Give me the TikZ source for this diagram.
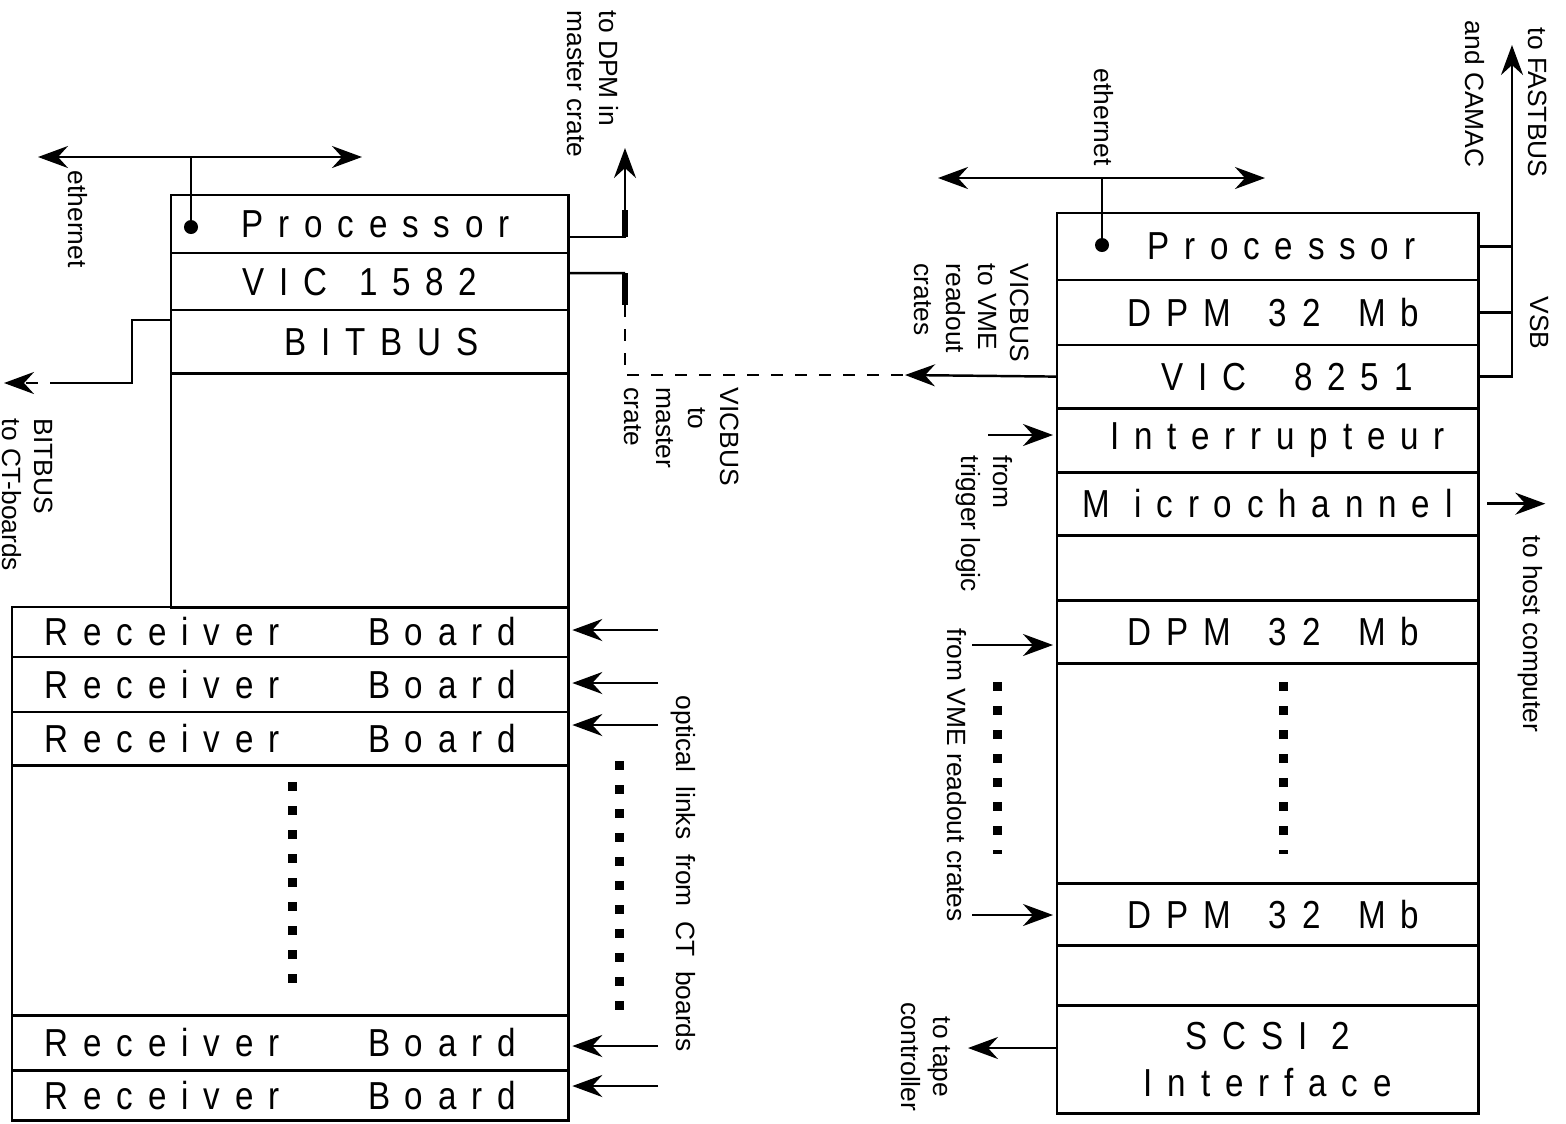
\documentclass[tikz,border=0pt]{standalone}
\usepackage{fontspec}
\setmainfont{Liberation Sans}
\newfontfamily\boxfont[FakeStretch=0.85,LetterSpace=38]{Liberation Sans}
\usetikzlibrary{arrows.meta,positioning}

\begin{document}
\begin{tikzpicture}[
  x=0.01cm, y=-0.01cm,
  slot/.style={draw, line width=0.8pt, inner sep=0pt, outer sep=0pt, align=center,
    font=\boxfont\fontsize{11.1pt}{13.4pt}\selectfont},
  lslot/.style={slot, minimum width=3.97cm},
  bslot/.style={slot, minimum width=5.56cm},
  rslot/.style={slot, minimum width=4.21cm},
  lbl/.style={font=\fontsize{7.5pt}{9.1pt}\selectfont, rotate=-90, align=left, inner sep=0pt},
  dot/.style={circle, fill, inner sep=0pt, outer sep=0pt, minimum size=0.14cm},
  wire/.style={line width=0.7pt},
  arrow/.style={wire, -{Stealth[length=0.3cm, width=0.22cm, inset=0.1cm]}},
  both/.style={wire, {Stealth[length=0.3cm, width=0.22cm, inset=0.1cm]}-{Stealth[length=0.3cm, width=0.22cm, inset=0.1cm]}},
  broken/.style={dash pattern=on 0.12cm off 0.12cm}
]
\useasboundingbox (0,0) rectangle (1566,1123);

% master crate
\node[lslot, minimum height=0.58cm, anchor=north west] (lproc) at (171,195) {\hspace*{0.3em}Processor};
\node[lslot, minimum height=0.57cm, below=0pt of lproc] (lvic) {VIC\hspace{0.2em} 1582\hspace*{0.5em}};
\node[lslot, minimum height=0.63cm, below=0pt of lvic] (lbit) {\hspace*{0.6em}BITBUS};
\node[lslot, minimum height=2.34cm, below=0pt of lbit] (lfree) {};

% receiver boards
\node[bslot, minimum height=0.50cm, anchor=north west] (rb1) at (12,607) {Receiver\hspace{1.65em} Board\hspace*{0.5em}};
\node[bslot, minimum height=0.55cm, below=0pt of rb1] (rb2) {Receiver\hspace{1.65em} Board\hspace*{0.5em}};
\node[bslot, minimum height=0.53cm, below=0pt of rb2] (rb3) {Receiver\hspace{1.65em} Board\hspace*{0.5em}};
\node[bslot, minimum height=2.50cm, below=0pt of rb3] (rbgap) {};
\node[bslot, minimum height=0.55cm, below=0pt of rbgap] (rb4) {Receiver\hspace{1.65em} Board\hspace*{0.5em}};
\node[bslot, minimum height=0.50cm, below=0pt of rb4] (rb5) {Receiver\hspace{1.65em} Board\hspace*{0.5em}};

% event builder crate
\node[rslot, minimum height=0.67cm, anchor=north west] (proc) at (1057,213) {\hspace*{0.7em}Processor};
\node[rslot, minimum height=0.65cm, below=0pt of proc] (dpma) {\hspace*{0.3em}DPM\hspace{0.35em} 32\hspace{0.35em} Mb};
\node[rslot, minimum height=0.63cm, below=0pt of dpma] (vic) {\hspace*{1em}VIC\hspace{0.6em} 8251};
\node[rslot, minimum height=0.64cm, below=0pt of vic] (intr) {\hspace*{0.5em}Interrupteur};
\node[rslot, minimum height=0.63cm, below=0pt of intr] (mch) {M icrochannel};
\node[rslot, minimum height=0.65cm, below=0pt of mch] (blank1) {};
\node[rslot, minimum height=0.63cm, below=0pt of blank1] (dpmb) {\hspace*{0.3em}DPM\hspace{0.35em} 32\hspace{0.35em} Mb};
\node[rslot, minimum height=2.20cm, below=0pt of dpmb] (vgap) {};
\node[rslot, minimum height=0.62cm, below=0pt of vgap] (dpmc) {\hspace*{0.3em}DPM\hspace{0.35em} 32\hspace{0.35em} Mb};
\node[rslot, minimum height=0.60cm, below=0pt of dpmc] (blank2) {};
\node[rslot, minimum height=1.08cm, below=0pt of blank2] (scsi) {SCSI 2\\Interface};

% ethernet, master crate
\node[dot] (ldot) at (191,227) {};
\coordinate (lethL) at (38,157);
\coordinate (lethR) at (362,157);
\draw[both] (lethL) -- (lethR);
\draw[wire] (ldot) -- (ldot |- lethL);
\node[lbl, anchor=west] (leth) at (78,170) {ethernet};

% to DPM in master crate
\coordinate (dpmtip) at (625,148);
\coordinate (dpmknee) at (625,237);
\draw[arrow] ([yshift=-0.13cm]lproc.east) -| (dpmtip);
\draw[line width=1.5pt] (dpmknee) -- ++(0,-27);
\node[lbl, anchor=west] (dpmlbl) at (593,10) {to DPM in\\master crate};

% VICBUS between crates
\coordinate (vkneeA) at (625,273);
\coordinate (vkneeB) at (625,305);
\coordinate (vmeet) at (905,375);
\draw[wire] ([yshift=0.085cm]lvic.east) -- (vkneeA);
\draw[line width=1.5pt] (vkneeA) -- (vkneeB);
\draw[wire, broken] (vkneeB) |- (vmeet);
\draw[arrow] (vic.west) -- (vmeet);
\node[lbl, anchor=west] (vmlbl) at (682,387) {VICBUS\\\hspace*{0.75em}to\\master\\crate};
\node[lbl, anchor=west] (vrlbl) at (972,263) {VICBUS\\to VME\\readout\\crates};

% BITBUS
\coordinate (bkink) at (132,383);
\coordinate (bdash) at (62,383);
\coordinate (btip) at (4,383);
\draw[wire] ([yshift=0.215cm]lbit.west) -| (bkink) -- (bdash);
\draw[arrow, broken] (bdash) -- (btip);
\node[lbl, anchor=west] (bblbl) at (28,418) {BITBUS\\to CT-boards};

% optical links
\foreach \r/\y [count=\i] in {rb1/630, rb2/683, rb3/725, rb4/1046, rb5/1086} {
  \coordinate (opt\i) at (658,\y);
  \draw[arrow, shorten >=0.04cm] (opt\i) -- (opt\i -| \r.east);
}
\node[lbl, anchor=west] (optlbl) at (683,695) {optical~~links~~from~~CT~~boards};

% dots
\foreach \k in {0,...,8} \fill (287.5,781.5+24*\k) rectangle ++(9,9);
\foreach \k in {0,...,10} \fill (614.5,760.5+24*\k) rectangle ++(9,9);
\foreach \k in {0,...,6} {
  \fill (1278.5,681.5+24*\k) rectangle ++(9,9);
  \fill (992.5,681.5+24*\k) rectangle ++(9,9);
}
\fill (1278.5,850) rectangle ++(9,4);
\fill (992.5,850) rectangle ++(9,4);

% ethernet, event builder
\node[dot] (rdot) at (1102,245) {};
\coordinate (rethL) at (938,178);
\coordinate (rethR) at (1265,178);
\draw[both] (rethL) -- (rethR);
\draw[wire] (rdot) -- (rdot |- rethL);
\node[lbl, anchor=west] (reth) at (1104,68) {ethernet};

% VSB
\coordinate (vsbtip) at (1512,45);
\draw[arrow] (vic.east) -| (vsbtip);
\draw[wire] (proc.east) -- (proc.east -| vsbtip);
\draw[wire] (dpma.east) -- (dpma.east -| vsbtip);
\node[lbl] (vsblbl) at (1540,323) {VSB};
\node[lbl, anchor=west] (fastlbl) at (1538,27) {to FASTBUS};
\node[lbl, anchor=west] (camaclbl) at (1475,20) {and CAMAC};

% trigger, readout crates, host, tape
\coordinate (trig) at (988,435);
\draw[arrow, shorten >=0.04cm] (trig) -- (trig -| intr.west);
\node[lbl, anchor=west] (triglbl) at (984,455) {from\\trigger logic};

\coordinate (vmeA) at (972,645);
\coordinate (vmeB) at (972,915);
\draw[arrow, shorten >=0.04cm] (vmeA) -- (vmeA -| dpmb.west);
\draw[arrow, shorten >=0.04cm] (vmeB) -- (vmeB -| dpmc.west);
\node[lbl, anchor=west] (vmelbl) at (957,628) {from VME readout crates};

\coordinate (host) at ([xshift=0.67cm]mch.east);
\draw[arrow] ([xshift=0.09cm]mch.east) -- (host);
\node[lbl, anchor=west] (hostlbl) at (1530,535) {to host computer};

\coordinate (tape) at (968,1048);
\draw[arrow] (tape -| scsi.west) -- (tape);
\node[lbl, align=center] (tapelbl) at (926,1057) {to tape\\controller};
\end{tikzpicture}
\end{document}
